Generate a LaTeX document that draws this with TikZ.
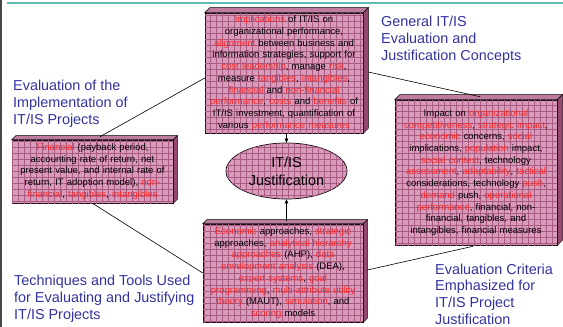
\documentclass[tikz,border=0pt]{standalone}
\usepackage{fontspec}
\setmainfont{Liberation Sans}
\usetikzlibrary{patterns.meta,arrows.meta,shapes.geometric}
\definecolor{hilite}{RGB}{255,35,35}
\definecolor{lblblue}{RGB}{51,51,160}
\definecolor{boxbase}{RGB}{214,150,182}
\definecolor{boxgrid}{RGB}{168,92,132}
\definecolor{boxdots}{RGB}{240,215,228}
\definecolor{boxtop}{RGB}{192,124,160}
\definecolor{boxside}{RGB}{150,72,112}
\definecolor{frameteal}{RGB}{96,186,180}
\definecolor{framegray}{RGB}{70,70,70}
\newcommand{\rtx}[1]{\textcolor{hilite}{#1}}
\newcommand{\boxfaces}[2]{%
  \filldraw[fill=boxtop, draw=black, line width=0.5pt] (#1.north west) -- ([shift={(#2,-#2)}]#1.north west) -- ([shift={(#2,-#2)}]#1.north east) -- (#1.north east) -- cycle;
  \filldraw[fill=boxside, draw=black, line width=0.5pt] (#1.north east) -- ([shift={(#2,-#2)}]#1.north east) -- ([shift={(#2,-#2)}]#1.south east) -- (#1.south east) -- cycle;
}
\tikzset{
  texfill/.style={fill=boxbase,
    postaction={pattern={Dots[distance=2pt,radius=0.45pt]},pattern color=boxdots},
    postaction={pattern={Lines[distance=6pt,angle=0,line width=0.4pt]},pattern color=boxgrid},
    postaction={pattern={Lines[distance=6pt,angle=90,line width=0.4pt]},pattern color=boxgrid}},
  infobox/.style={rectangle, texfill, draw=black, line width=0.6pt, inner sep=0pt,
    align=center, text=black, font=\fontsize{9.5}{11.7}\selectfont},
  lbl/.style={anchor=north west, inner sep=0pt, align=left, text=lblblue,
    font=\fontsize{14.4}{17}\selectfont},
  conn/.style={draw=black, line width=0.6pt},
  arr/.style={draw=black, line width=0.6pt, -{Triangle[length=4pt,width=3.5pt]}}
}
\begin{document}
\begin{tikzpicture}[x=1pt,y=-1pt]
\useasboundingbox (0,0) rectangle (563,327);
\draw[frameteal, line width=2pt] (7,3) -- (563,3);
\draw[framegray, line width=2pt] (1,0) -- (1,327);

% boxes
\node[infobox, minimum width=158pt, minimum height=120pt, text width=154pt] (gen) at (284,73)
{\rtx{Implications} of IT/IS on\\
organizational performance,\\
\rtx{alignment} between business and\\
information strategies, support for\\
\rtx{cost leadership}, manage \rtx{risk},\\
measure \rtx{tangibles}, \rtx{intangibles},\\
\rtx{financial} and \rtx{non-financial}\\
\rtx{performance}, \rtx{costs} and \rtx{benefits} of\\
IT/IS investment, quantification of\\
various \rtx{performance measures}};
\boxfaces{gen}{5}

\node[infobox, minimum width=161pt, minimum height=63pt, text width=157pt] (lft) at (92.5,171.5)
{\rtx{Financial} (payback period,\\
accounting rate of return, net\\
present value, and internal rate of\\
return, IT adoption model), \rtx{non-}\\
\rtx{financial}, \rtx{tangibles}, \rtx{intangibles}};
\boxfaces{lft}{4}

\node[infobox, minimum width=162pt, minimum height=145pt, text width=158pt] (rgt) at (476,172.5)
{Impact on \rtx{organizational}\\
\rtx{competitiveness}, \rtx{strategic impact},\\
\rtx{economic} concerns, \rtx{social}\\
implications, \rtx{population} impact,\\
\rtx{social context}, technology\\
\rtx{assessment}, \rtx{adaptability}, \rtx{tactical}\\
considerations, technology \rtx{push},\\
\rtx{demand} push, \rtx{operational}\\
\rtx{performance}, financial, non-\\
financial, tangibles, and\\
intangibles, financial measures};
\boxfaces{rgt}{5}

\node[infobox, minimum width=160pt, minimum height=98pt, text width=156pt] (bot) at (283,273)
{\rtx{Economic} approaches, \rtx{strategic}\\
approaches, \rtx{analytical hierarchy}\\
\rtx{approaches} (AHP), \rtx{data}\\
\rtx{envelopment analysis} (DEA),\\
\rtx{expert systems}, \rtx{goal}\\
\rtx{programming}, \rtx{multi-attribute utility}\\
\rtx{theory} (MAUT), \rtx{simulation}, and\\
\rtx{scoring} models};
\boxfaces{bot}{4}

% central ellipse
\node[ellipse, texfill, draw=black, line width=0.7pt, minimum width=121pt, minimum height=56pt,
  inner sep=0pt, align=center, font=\fontsize{14.4}{18}\selectfont] (just) at (286.5,171)
{IT/IS\\Justification};

% arrows
\draw[arr] (gen.south -| just.north) -- (just.north);
\draw[arr] ([yshift=3pt]bot.north -| just.south) -- (just.south);

% connectors
\draw[conn] ([shift={(0,5)}]gen.west) -- ([shift={(7.5,-3)}]lft.north);
\draw[conn] ([shift={(5,-1)}]gen.east) -- ([shift={(4,-3)}]rgt.north);
\draw[conn] (lft.south) -- (bot.west);
\draw[conn] ([shift={(4,-3)}]bot.east) -- ([shift={(-3,1)}]rgt.south);

% labels
\node[lbl] (lgen) at (381,15.7) {General IT/IS\\Evaluation and\\Justification Concepts};
\node[lbl] (limp) at (13,79.5) {Evaluation of the\\Implementation of\\IT/IS Projects};
\node[lbl] (ltec) at (14,274.5) {Techniques and Tools Used\\for Evaluating and Justifying\\IT/IS Projects};
\node[lbl, font=\fontsize{14.4}{16.8}\selectfont] (lcri) at (435,263.5) {Evaluation Criteria\\Emphasized for\\IT/IS Project\\Justification};
\end{tikzpicture}
\end{document}
